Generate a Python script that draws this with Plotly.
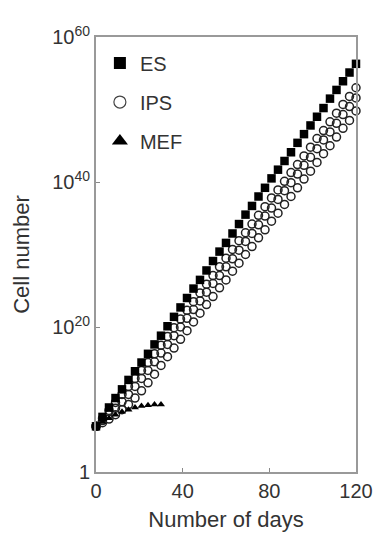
import plotly.graph_objects as go

days = list(range(0, 121, 3))
mef_days = list(range(0, 31, 3))

# log10(cell number)
es_log = [6.3, 7.6, 8.9, 10.2, 11.4, 12.7, 13.9, 15.1, 16.3, 17.6, 18.8, 20.1, 21.4, 22.7,
          24.0, 25.3, 26.5, 27.8, 29.1, 30.4, 31.6, 32.9, 34.2, 35.5, 36.7, 38.0, 39.2, 40.5,
          41.7, 42.9, 44.1, 45.4, 46.6, 47.8, 49.0, 50.2, 51.5, 52.7, 53.9, 55.1, 56.3]
ips_a_log = [6.3, 7.4, 8.5, 9.6, 10.7, 11.8, 12.9, 14.0, 15.1, 16.3, 17.5, 18.7, 19.9, 21.1,
             22.3, 23.5, 24.7, 25.9, 27.1, 28.3, 29.5, 30.7, 31.9, 33.0, 34.2, 35.4, 36.6, 37.8,
             38.9, 40.1, 41.3, 42.4, 43.6, 44.8, 46.0, 47.1, 48.3, 49.5, 50.7, 51.8, 53.0]
ips_b_log = [6.3, 7.1, 7.9, 8.8, 9.7, 10.7, 11.8, 12.9, 14.0, 15.2, 16.4, 17.6, 18.8, 20.0,
             21.2, 22.4, 23.6, 24.8, 26.0, 27.1, 28.3, 29.4, 30.6, 31.8, 32.9, 34.1, 35.3, 36.4,
             37.6, 38.8, 39.9, 41.1, 42.3, 43.4, 44.6, 45.8, 46.9, 48.1, 49.3, 50.4, 51.6]
ips_c_log = [6.3, 6.8, 7.3, 7.9, 8.6, 9.3, 10.2, 11.2, 12.3, 13.5, 14.7, 15.9, 17.1, 18.3,
             19.5, 20.7, 21.9, 23.1, 24.2, 25.4, 26.5, 27.7, 28.8, 30.0, 31.1, 32.3, 33.4, 34.6,
             35.7, 36.9, 38.0, 39.2, 40.4, 41.5, 42.7, 43.9, 45.0, 46.2, 47.4, 48.5, 49.8]
mef_log = [6.3, 6.9, 7.4, 7.9, 8.3, 8.6, 8.9, 9.1, 9.2, 9.3, 9.3]

x_ticks = [0, 40, 80, 120]
y_tickvals = [1, 1e20, 1e40, 1e60]
y_ticktext = ["1", "10<sup>20</sup>", "10<sup>40</sup>", "10<sup>60</sup>"]

def lin(v):
    return [10 ** e for e in v]

fig = go.Figure()
circ = dict(symbol="circle-open", size=8, color="#222", line=dict(width=1.5, color="#222"))
for ys in (ips_c_log, ips_b_log, ips_a_log):
    fig.add_trace(go.Scatter(x=days, y=lin(ys), mode="markers", marker=circ,
                             showlegend=False, cliponaxis=False))
fig.add_trace(go.Scatter(x=mef_days, y=lin(mef_log), mode="markers",
                         marker=dict(symbol="triangle-up", size=7, color="#000"),
                         showlegend=False, cliponaxis=False))
fig.add_trace(go.Scatter(x=days, y=lin(es_log), mode="markers",
                         marker=dict(symbol="square", size=8.5, color="#000"),
                         showlegend=False, cliponaxis=False))

# legend entries
fig.add_trace(go.Scatter(x=[None], y=[None], mode="markers", name="ES", legendgroup="a",
                         marker=dict(symbol="square", size=12, color="#000")))
fig.add_trace(go.Scatter(x=[None], y=[None], mode="markers", name="IPS", legendgroup="b",
                         marker=dict(symbol="circle-open", size=12, color="#444", line=dict(width=1.2))))
fig.add_trace(go.Scatter(x=[None], y=[None], mode="markers", name="MEF", legendgroup="c",
                         marker=dict(symbol="triangle-up", size=14, color="#000")))

axis_common = dict(showline=True, linecolor="#999", linewidth=2, mirror=True,
                   ticks="inside", ticklen=4, tickcolor="#888", showgrid=False,
                   zeroline=False, tickfont=dict(size=20, color="#333"))

fig.update_layout(
    width=385, height=540,
    margin=dict(l=96, r=26, t=37, b=67),
    plot_bgcolor="white", paper_bgcolor="white",
    font=dict(family="Liberation Sans, Arial, sans-serif", color="#333", size=20),
    legend=dict(x=0.015, y=0.985, xanchor="left", yanchor="top", bgcolor="rgba(0,0,0,0)",
                traceorder="grouped", tracegroupgap=10, font=dict(size=20, color="#333")),
    xaxis=dict(range=[0, 120], tickvals=x_ticks, title=dict(text="Number of days", standoff=11,
               font=dict(size=22)), **axis_common),
    yaxis=dict(type="log", range=[0, 60], tickvals=y_tickvals, ticktext=y_ticktext,
               title=dict(text="Cell number", standoff=16, font=dict(size=22)), **axis_common),
)

fig.write_html("out.html")
